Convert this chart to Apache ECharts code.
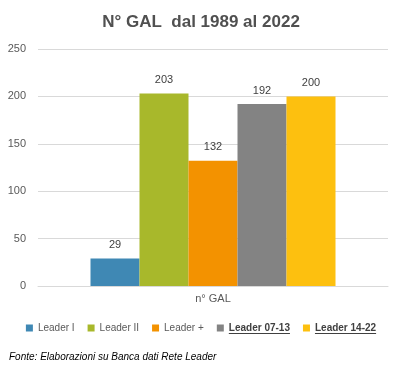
<!DOCTYPE html>
<html><head><meta charset="utf-8">
<script src="https://cdn.jsdelivr.net/npm/echarts@6/dist/echarts.min.js"></script>
<style>html,body{margin:0;padding:0;background:#fff}#c{width:402px;height:373px}</style>
</head><body><div id="c"></div>
<script>
const categories = ['n° GAL'];
const seriesNames = ['Leader I', 'Leader II', 'Leader +', 'Leader 07-13', 'Leader 14-22'];
const seriesValues = [[29], [203], [132], [192], [200]];
const colors = ['#3F88B4', '#A8B82B', '#F39200', '#838383', '#FDC00F'];
const yTicks = [0, 50, 100, 150, 200, 250];
const boldNames = ['Leader 07-13', 'Leader 14-22'];
const FONT = 'Liberation Sans, Arial, sans-serif';
const LFS = 10, IW = 7, GAP = 13, LTOP = 318;

// measure legend to place underlines
const cv = document.createElement('canvas').getContext('2d');
const widths = seriesNames.map(n => {
  cv.font = (boldNames.includes(n) ? 'bold ' : '') + LFS + 'px ' + FONT;
  return cv.measureText(n).width;
});
const total = widths.reduce((a, w) => a + IW + 5 + w, 0) + GAP * (seriesNames.length - 1);
let x = (402 - total) / 2;
const underlines = [];
seriesNames.forEach((n, i) => {
  const tx = x + IW + 5;
  if (boldNames.includes(n)) underlines.push({ type: 'line', silent: true,
    shape: { x1: tx, y1: LTOP + 15.5, x2: tx + widths[i], y2: LTOP + 15.5 },
    style: { stroke: '#404040', lineWidth: 1 } });
  x += IW + 5 + widths[i] + GAP;
});

const chart = echarts.init(document.getElementById('c'));
chart.setOption({
  animation: false,
  title: { text: 'N° GAL  dal 1989 al 2022', left: 'center', top: 9,
    textStyle: { fontFamily: FONT, fontSize: 17, fontWeight: 'bold', color: '#505050' } },
  grid: { left: 38, right: 14, top: 49, bottom: 87 },
  xAxis: { type: 'category', data: categories,
    axisLine: { show: true, lineStyle: { color: '#d9d9d9' } }, axisTick: { show: false },
    axisLabel: { color: '#595959', fontFamily: FONT, fontSize: 11, margin: 7 } },
  yAxis: { type: 'value', min: yTicks[0], max: yTicks[yTicks.length-1], interval: 50,
    axisLine: { show: false }, axisTick: { show: false },
    axisLabel: { color: '#595959', fontFamily: FONT, fontSize: 11, margin: 12 },
    splitLine: { lineStyle: { color: '#d9d9d9' } } },
  legend: { top: LTOP, left: 'center', itemWidth: IW, itemHeight: IW, itemGap: GAP, icon: 'rect',
    data: seriesNames,
    formatter: n => boldNames.includes(n) ? '{b|' + n + '}' : n,
    textStyle: { color: '#595959', fontFamily: FONT, fontSize: LFS,
      rich: { b: { fontWeight: 'bold', color: '#404040', fontFamily: FONT, fontSize: LFS } } } },
  series: seriesNames.map((n, i) => ({
    name: n, type: 'bar', data: seriesValues[i], barWidth: 49, barGap: '0%',
    itemStyle: { color: colors[i] },
    label: { show: true, position: 'top', distance: 8, color: '#404040', fontFamily: FONT, fontSize: 11 }
  })),
  graphic: underlines.concat([
    { type: 'text', left: 9, top: 352, style: { text: 'Fonte: Elaborazioni su Banca dati Rete Leader',
      fontFamily: FONT, fontSize: 10, fontStyle: 'italic', fill: '#000' } }
  ])
});
</script></body></html>
